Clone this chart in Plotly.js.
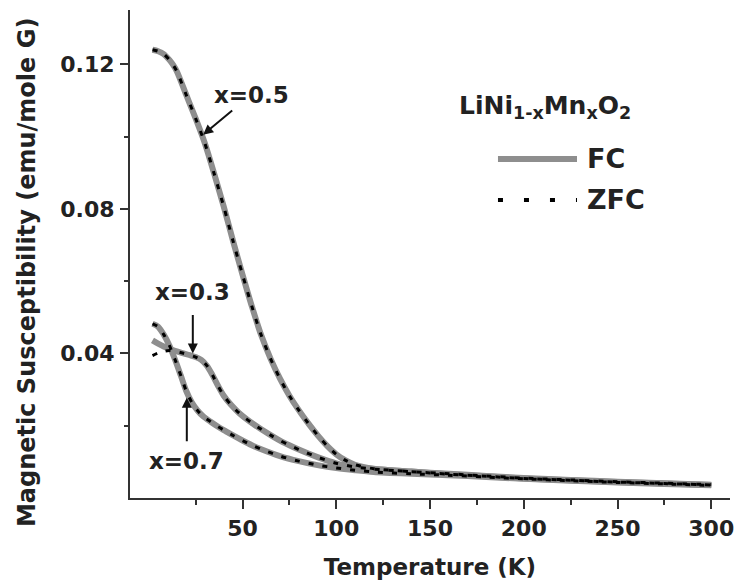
<!DOCTYPE html>
<html>
<head>
<meta charset="utf-8">
<script src="https://cdn.plot.ly/plotly-3.0.1.min.js"></script>
<style>html,body{margin:0;padding:0;background:#fff;}#chart{width:735px;height:581px;}</style>
</head>
<body>
<div id="chart"></div>
<script>
// Temperature (K) and susceptibility (emu/mole G)
const tempX05 = [2, 5, 8, 11, 13, 15, 20, 25, 30, 35, 40, 45, 50, 55, 60, 65, 70, 75, 80, 85, 90, 95, 100, 105, 110, 120, 140, 160, 180, 200, 225, 250, 275, 300];
const fcX05   = [0.1240, 0.1236, 0.1228, 0.1212, 0.1198, 0.1180, 0.1115, 0.1050, 0.0980, 0.0895, 0.0806, 0.0710, 0.0618, 0.0530, 0.0450, 0.0385, 0.0330, 0.0283, 0.0243, 0.0207, 0.0174, 0.0145, 0.0121, 0.0104, 0.0092, 0.0081, 0.0073, 0.0066, 0.0060, 0.0054, 0.0049, 0.0044, 0.0040, 0.0036];
const zfcX05  = [0.1240, 0.1236, 0.1228, 0.1212, 0.1198, 0.1180, 0.1115, 0.1050, 0.0980, 0.0895, 0.0806, 0.0710, 0.0618, 0.0530, 0.0450, 0.0385, 0.0330, 0.0283, 0.0243, 0.0207, 0.0174, 0.0145, 0.0121, 0.0104, 0.0092, 0.0081, 0.0073, 0.0066, 0.0060, 0.0054, 0.0049, 0.0044, 0.0040, 0.0036];

const tempX03 = [2, 5, 8, 11, 14, 18, 22, 25, 28, 31, 34, 37, 40, 44, 48, 52, 56, 60, 65, 70, 75, 80, 90, 100, 110, 120, 140, 160, 180, 200, 225, 250, 275, 300];
const fcX03   = [0.0436, 0.0427, 0.0419, 0.0412, 0.0407, 0.0401, 0.0395, 0.0390, 0.0382, 0.0366, 0.0340, 0.0310, 0.0283, 0.0257, 0.0236, 0.0219, 0.0204, 0.0190, 0.0174, 0.0159, 0.0146, 0.0134, 0.0113, 0.0096, 0.0086, 0.0080, 0.0073, 0.0067, 0.0061, 0.0055, 0.0050, 0.0045, 0.0041, 0.0037];
const zfcX03  = [0.0394, 0.0401, 0.0406, 0.0408, 0.0406, 0.0401, 0.0395, 0.0390, 0.0382, 0.0366, 0.0340, 0.0310, 0.0283, 0.0257, 0.0236, 0.0219, 0.0204, 0.0190, 0.0174, 0.0159, 0.0146, 0.0134, 0.0113, 0.0096, 0.0086, 0.0080, 0.0073, 0.0067, 0.0061, 0.0055, 0.0050, 0.0045, 0.0041, 0.0037];

const tempX07 = [2, 5, 8, 11, 14, 17, 20, 23, 26, 29, 33, 37, 41, 45, 50, 55, 60, 70, 80, 90, 100, 110, 120, 140, 160, 180, 200, 225, 250, 275, 300];
const fcX07   = [0.0482, 0.0474, 0.0452, 0.0422, 0.0383, 0.0340, 0.0296, 0.0264, 0.0242, 0.0226, 0.0211, 0.0197, 0.0185, 0.0173, 0.0159, 0.0146, 0.0135, 0.0116, 0.0102, 0.0091, 0.0083, 0.0077, 0.0072, 0.0067, 0.0063, 0.0058, 0.0053, 0.0048, 0.0043, 0.0039, 0.0035];
const zfcX07  = [0.0482, 0.0474, 0.0452, 0.0422, 0.0383, 0.0340, 0.0296, 0.0264, 0.0242, 0.0226, 0.0211, 0.0197, 0.0185, 0.0173, 0.0159, 0.0146, 0.0135, 0.0116, 0.0102, 0.0091, 0.0083, 0.0077, 0.0072, 0.0067, 0.0063, 0.0058, 0.0053, 0.0048, 0.0043, 0.0039, 0.0035];

const xTickVals = [50, 100, 150, 200, 250, 300];
const xMinorVals = [25, 75, 125, 175, 225, 275];
const yTickVals = [0.04, 0.08, 0.12];
const yTickText = ['0.04', '0.08', '0.12'];
const yMinorVals = [0.02, 0.06, 0.10];

const FONT = 'DejaVu Sans, Arial, sans-serif';
const fcStyle = {color: '#8e8e8e', width: 6, shape: 'spline', smoothing: 0.8};
const zfcStyle = {color: '#000000', width: 3, dash: '5px,9px', shape: 'spline', smoothing: 0.8};

const series = [
  {name: 'x=0.5', t: tempX05, fc: fcX05, zfc: zfcX05},
  {name: 'x=0.3', t: tempX03, fc: fcX03, zfc: zfcX03},
  {name: 'x=0.7', t: tempX07, fc: fcX07, zfc: zfcX07}
];

const traces = [];
series.forEach(s => traces.push({x: s.t, y: s.fc, type: 'scatter', mode: 'lines', name: 'FC ' + s.name, line: fcStyle, showlegend: false, hoverinfo: 'skip'}));
series.forEach(s => traces.push({x: s.t, y: s.zfc, type: 'scatter', mode: 'lines', name: 'ZFC ' + s.name, line: zfcStyle, showlegend: false, hoverinfo: 'skip'}));

const annFont = {family: FONT, size: 23, color: '#222', weight: 'bold'};
const arrowStyle = {showarrow: true, arrowhead: 2, arrowsize: 1, arrowwidth: 2, arrowcolor: '#111'};
const annotations = [
  Object.assign({x: 29, y: 0.1005, xref: 'x', yref: 'y', text: 'x=0.5', ax: 48, ay: -40, startstandoff: 2, font: annFont}, arrowStyle),
  Object.assign({x: 23.5, y: 0.0400, xref: 'x', yref: 'y', text: 'x=0.3', ax: 0, ay: -61, startstandoff: 8, font: annFont}, arrowStyle),
  Object.assign({x: 20.3, y: 0.0277, xref: 'x', yref: 'y', text: 'x=0.7', ax: 0, ay: 63, startstandoff: 5, font: annFont}, arrowStyle),
  // y axis title
  {x: -0.1717, y: 0.463, xref: 'paper', yref: 'paper', xanchor: 'center', yanchor: 'middle', textangle: -90,
   text: 'Magnetic Susceptibility (emu/mole G)', showarrow: false, font: {family: FONT, size: 24, color: '#222', weight: 'bold'}},
  // legend block
  {x: 0.545, y: 0.802, xref: 'paper', yref: 'paper', xanchor: 'left', yanchor: 'middle',
   text: 'LiNi<sub>1-x</sub>Mn<sub>x</sub>O<sub>2</sub>', showarrow: false, font: {family: FONT, size: 25, color: '#222', weight: 'bold'}},
  {x: 0.7583, y: 0.6947, xref: 'paper', yref: 'paper', xanchor: 'left', yanchor: 'middle',
   text: 'FC', showarrow: false, font: {family: FONT, size: 27, color: '#222', weight: 'bold'}},
  {x: 0.7583, y: 0.6107, xref: 'paper', yref: 'paper', xanchor: 'left', yanchor: 'middle',
   text: 'ZFC', showarrow: false, font: {family: FONT, size: 27, color: '#222', weight: 'bold'}}
];

const shapes = [
  {type: 'line', xref: 'paper', yref: 'paper', x0: 0.6133, x1: 0.745, y0: 0.6947, y1: 0.6947, line: {color: '#8e8e8e', width: 6}},
  {type: 'line', xref: 'paper', yref: 'paper', x0: 0.6133, x1: 0.745, y0: 0.6107, y1: 0.6107, line: {color: '#000', width: 4, dash: '5px,21px'}}
];

const axisCommon = {
  showline: true, linecolor: '#333', linewidth: 2, ticks: 'outside', tickwidth: 2, tickcolor: '#333',
  showgrid: false, zeroline: false, tickfont: {family: FONT, size: 22, color: '#222', weight: 'bold'}
};

const layout = {
  width: 735, height: 581,
  margin: {l: 130, r: 5, t: 10, b: 83},
  paper_bgcolor: '#fff', plot_bgcolor: '#fff',
  showlegend: false,
  xaxis: Object.assign({}, axisCommon, {
    range: [-10, 310], tickmode: 'array', tickvals: xTickVals, ticklen: 9, ticklabelstandoff: 1,
    minor: {tickmode: 'array', tickvals: xMinorVals, ticks: 'outside', ticklen: 5, tickwidth: 2, tickcolor: '#333', showgrid: false},
    title: {text: 'Temperature (K)', font: {family: FONT, size: 23, color: '#222', weight: 'bold'}, standoff: 18}
  }),
  yaxis: Object.assign({}, axisCommon, {
    range: [0, 0.135], tickmode: 'array', tickvals: yTickVals, ticktext: yTickText, ticklen: 8, ticklabelstandoff: 1,
    minor: {tickmode: 'array', tickvals: yMinorVals, ticks: 'outside', ticklen: 4, tickwidth: 2, tickcolor: '#333', showgrid: false}
  }),
  annotations: annotations,
  shapes: shapes
};

Plotly.newPlot('chart', traces, layout, {staticPlot: true, displayModeBar: false});
</script>
</body>
</html>
